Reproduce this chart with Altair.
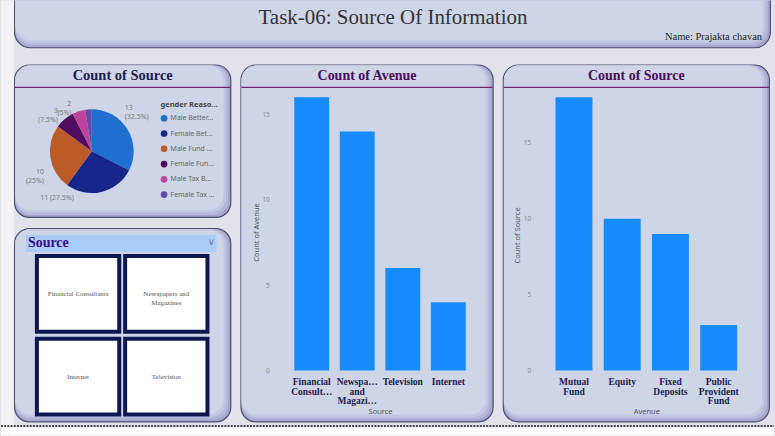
import altair as alt
import pandas as pd

# ------------------------------------------------------------------ data
reason_names = ["Male Better...", "Female Bet...", "Male Fund ...",
                "Female Fun...", "Male Tax B...", "Female Tax ..."]
reason_counts = [13, 11, 10, 3, 2, 1]
reason_colors = ["#1f6fd1", "#17268a", "#bb5b27", "#500c5e", "#c0439b", "#5e4cad"]

source_names = ["Financial Consultants", "Newspapers and Magazines", "Television", "Internet"]
source_counts = [16, 14, 6, 4]
source_tick_text = [["Financial", "Consult…"], ["Newspa…", "and", "Magazi…"], ["Television"], ["Internet"]]

avenue_names = ["Mutual Fund", "Equity", "Fixed Deposits", "Public Provident Fund"]
avenue_counts = [18, 10, 9, 3]
avenue_tick_text = [["Mutual", "Fund"], ["Equity"], ["Fixed", "Deposits"], ["Public", "Provident", "Fund"]]

slicer_names = ["Financial Consultants", "Newspapers and Magazines", "Internet", "Television"]
slicer_text = ["Financial Consultants", "Newspapers and\nMagazines", "Internet", "Television"]

count_ticks = [0, 5, 10, 15]

# ------------------------------------------------------------------ helpers
one = pd.DataFrame({"k": [0]})
SERIF = "Liberation Serif"
SANS = "Noto Sans"
BAR = "#168cfc"


def box(x1, y1, x2, y2, fill, r, stroke=None, clip=False):
    kw = dict(fill=fill, cornerRadius=r, clip=clip)
    if stroke:
        kw.update(stroke=stroke, strokeWidth=1.2)
    return alt.Chart(one).mark_rect(**kw).encode(
        x=alt.value(x1), x2=alt.value(x2), y=alt.value(y1), y2=alt.value(y2))


def panel(W, y_top, y_bot, r=15, clip=False):
    return [
        box(0.6, y_top + 0.6, W - 0.6, y_bot - 0.6, "#a6a3cd", r, stroke="#4d5170", clip=clip),
        box(1.2, y_top + 1.2, W - 3, y_bot - 3, "#b5b7da", r, clip=clip),
        box(1.2, y_top + 1.2, W - 5.5, y_bot - 5.5, "#c2c7e2", r, clip=clip),
        box(1.2, y_top + 1.2, W - 8, y_bot - 8, "#cdd5e7", r, clip=clip),
    ]


def header(W, y_top, title, color, size=14.5):
    t = alt.Chart(one).mark_text(text=title, font=SERIF, fontSize=size, fontWeight="bold",
                                 color=color, align="center", baseline="middle").encode(
        x=alt.value(W / 2), y=alt.value(y_top + 12))
    line = alt.Chart(one).mark_rule(color="#74236d", strokeWidth=1.3).encode(
        x=alt.value(1), x2=alt.value(W - 1), y=alt.value(y_top + 23))
    return [t, line]


def wrap_expr(names, lines):
    expr = "datum.label"
    for n, ls in reversed(list(zip(names, lines))):
        arr = "[" + ",".join("'" + s + "'" for s in ls) + "]"
        expr = "datum.value == '" + n + "' ? " + arr + " : (" + expr + ")"
    return expr


# ------------------------------------------------------------------ banner
BW, BH = 759, 48
banner_bg = [
    box(-13, 0, 0, 436, "#f3f3f5", 0),
    box(-13, 428, 762, 436, "#fbfbfb", 0),
    alt.Chart(one).mark_rule(color="#4a4a4a", strokeWidth=2, strokeDash=[2, 1.2]).encode(
        x=alt.value(-13), x2=alt.value(762), y=alt.value(426.5)),
]
banner = alt.layer(
    *banner_bg,
    *panel(BW, -20, BH, r=16, clip=True),
    alt.Chart(one).mark_text(text="Task-06: Source Of Information", font=SERIF, fontSize=21,
                             color="#333333", align="center", baseline="middle").encode(
        x=alt.value(380), y=alt.value(18)),
    alt.Chart(one).mark_text(text="Name: Prajakta chavan", font=SERIF, fontSize=10.5,
                             color="#222222", align="right", baseline="middle").encode(
        x=alt.value(750), y=alt.value(37)),
).properties(width=BW, height=BH)

# ------------------------------------------------------------------ left column: pie + slicer
LW, LH = 218, 359
PIE_H = 154
SL_TOP = 164

total = sum(reason_counts)
pie_labels = []
for i, c in enumerate(reason_counts):
    p = c / total * 100
    sep = " " if i == 1 else "\n"
    pie_labels.append(f"{c}{sep}({p:g}%)")
pie_df = pd.DataFrame({"reason": reason_names, "n": reason_counts,
                       "idx": list(range(len(reason_names))), "label": pie_labels})

CX, CY = 78, 87
pie_base = alt.Chart(pie_df).encode(
    theta=alt.Theta("n:Q", stack=True),
    order=alt.Order("idx:Q"),
)
arcs = pie_base.mark_arc(outerRadius=42).encode(
    x=alt.value(CX), y=alt.value(CY),
    color=alt.Color("reason:N", scale=alt.Scale(domain=reason_names, range=reason_colors),
                    legend=alt.Legend(title="gender Reaso...", orient="none", legendX=147, legendY=101,
                                      titleFont=SANS, titleFontSize=7.5, titleFontWeight="bold",
                                      titleColor="#444444", titlePadding=6, labelFont=SANS,
                                      labelFontSize=7, labelColor="#666666", symbolType="circle",
                                      symbolSize=45, symbolStrokeWidth=0, rowPadding=7.3,
                                      labelOffset=3, labelLimit=80, padding=0)),
)
label_style = [(0, "left", -9.6, -17.5), (1, "right", -29.7, -2.0), (2, "right", 1.4, 13.0),
               (3, "right", -1.5, -2.5), (4, "right", -5.0, 0.5)]
label_layers = []
for idx, al, dx, dy in label_style:
    label_layers.append(pie_base.mark_text(radius=50, align=al, baseline="middle", dx=dx, dy=dy,
                                           lineBreak="\n", fontSize=7, font=SANS,
                                           color="#7a7a7a").encode(
        x=alt.value(CX), y=alt.value(CY),
        text=alt.condition(f"datum.idx == {idx}", "label:N", alt.value(""))))

slicer_df = pd.DataFrame({"item": slicer_names, "text": slicer_text,
                          "col": [i % 2 for i in range(len(slicer_names))],
                          "row": [i // 2 for i in range(len(slicer_names))]})
sx = alt.Scale(range=[23, 194], paddingInner=0.067, paddingOuter=0)
sy = alt.Scale(range=[SL_TOP + 28, SL_TOP + 187], paddingInner=0.084, paddingOuter=0)
tiles = alt.Chart(slicer_df).mark_rect(fill="white", stroke="#0e1850", strokeWidth=4).encode(
    x=alt.X("col:O", axis=None, scale=sx), y=alt.Y("row:O", axis=None, scale=sy))
tile_text = alt.Chart(slicer_df).mark_text(font=SERIF, fontSize=7, color="#555555",
                                           lineBreak="\n", align="center", baseline="middle").encode(
    x=alt.X("col:O", axis=None, scale=sx), y=alt.Y("row:O", axis=None, scale=sy), text="text:N")

left = alt.layer(
    *panel(LW, 0, PIE_H), *header(LW, 0, "Count of Source", "#1f1c4a", 14.5), arcs, *label_layers,
    *panel(LW, SL_TOP, LH),
    box(12, SL_TOP + 7, 203, SL_TOP + 24, "#a9cdf8", 0),
    alt.Chart(one).mark_text(text="Source", font=SERIF, fontSize=14, fontWeight="bold",
                             color="#3b0d84", align="left", baseline="middle").encode(
        x=alt.value(14), y=alt.value(SL_TOP + 15)),
    alt.Chart(one).mark_text(text="∨", font="DejaVu Sans", fontSize=10, color="#7080a8",
                             align="center", baseline="middle").encode(
        x=alt.value(198), y=alt.value(SL_TOP + 14)),
    tiles, tile_text,
).properties(width=LW, height=LH)


# ------------------------------------------------------------------ bar panels
def bar_panel(W, H, names, counts, tick_lines, xfield, yfield, title, ytitle,
              ymax, xrange, ylab_x, ytitle_y):
    df = pd.DataFrame({xfield: names, yfield: counts})
    bars = alt.Chart(df).mark_bar(color=BAR).encode(
        x=alt.X(f"{xfield}:N",
                scale=alt.Scale(domain=names, range=xrange, paddingInner=0.234, paddingOuter=0.117),
                axis=alt.Axis(labelExpr=wrap_expr(names, tick_lines), offset=307 - H, domain=False,
                              ticks=False, tickSize=0, labelPadding=6, labelFont=SERIF,
                              labelFontSize=9.5, labelFontWeight="bold", labelColor="#1c1c50",
                              labelLineHeight=9.5, labelAngle=0, labelLimit=200, grid=False,
                              zindex=2,
                              title=xfield, titleFont=SANS, titleFontSize=7.5,
                              titleFontWeight="normal", titleColor="#555555", titleY=41,
                              titleBaseline="middle")),
        y=alt.Y(f"{yfield}:Q",
                scale=alt.Scale(domain=[0, ymax], range=[307, 33], nice=False),
                axis=alt.Axis(values=count_ticks, grid=False, domain=False, ticks=False,
                              tickSize=0, labelPadding=0, offset=-ylab_x, labelFont=SANS,
                              labelFontSize=6.5, labelColor="#8c8c8c", labelAlign="right",
                              zindex=2,
                              title=ytitle, titleFont=SANS, titleFontSize=7.5,
                              titleFontWeight="normal", titleColor="#555555", titleX=-13,
                              titleY=ytitle_y, titleAngle=270, titleAlign="center",
                              titleBaseline="middle")),
    )
    return alt.layer(*panel(W, 0, H), *header(W, 0, title, "#4a0b58", 14),
                     bars).properties(width=W, height=H)


bar1 = bar_panel(254, LH, source_names, source_counts, source_tick_text, "Source", "Count of Avenue",
                 "Count of Avenue", "Count of Avenue", 16, [48.7, 231.3], 29, 168)
bar2 = bar_panel(268, LH, avenue_names, avenue_counts, avenue_tick_text, "Avenue", "Count of Source",
                 "Count of Source", "Count of Source", 18, [47.3, 240.7], 28, 171)

row = alt.hconcat(left, bar1, bar2, spacing=9, bounds="flush")
chart = alt.vconcat(banner, row, spacing=16, bounds="flush").properties(
    background="#e1e2ea", padding=0
).configure_view(strokeWidth=0)

chart.save("out.html", embed_options={"renderer": "svg", "actions": False})
